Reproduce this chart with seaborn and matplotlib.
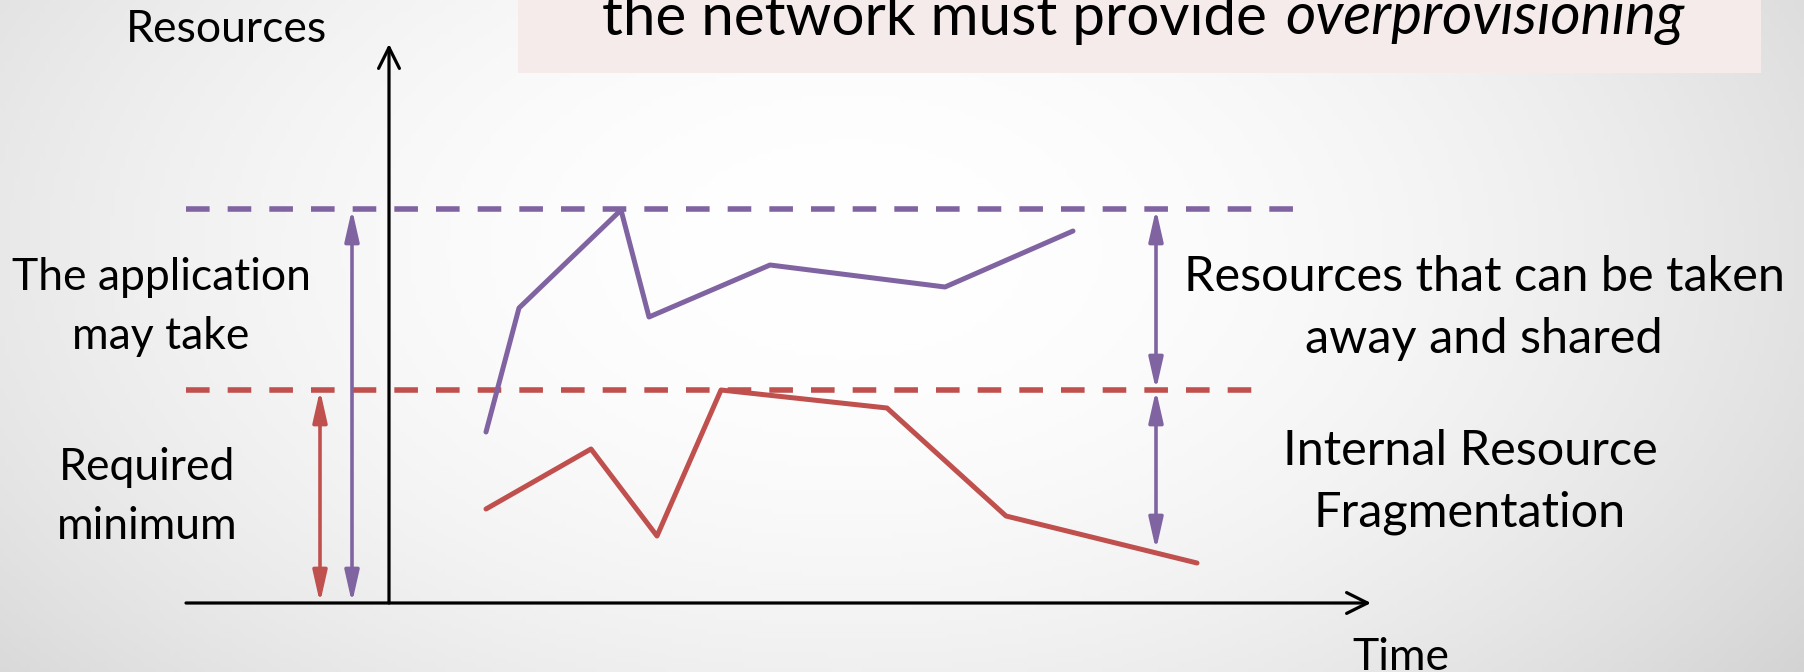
import numpy as np
import seaborn as sns
import matplotlib.pyplot as plt
from matplotlib.patches import Rectangle

# readings in (time, resource) units, origin where the two axes meet
app_time = [9.7, 13.0, 23.2, 26.0, 38.1, 55.6, 68.4]
app_usage = [17.1, 29.5, 39.3, 28.6, 33.8, 31.6, 37.2]
min_time = [9.7, 20.2, 26.8, 33.2, 49.8, 61.7, 80.8]
min_usage = [9.4, 15.4, 6.7, 21.3, 19.5, 8.7, 4.0]

max_level = 39.4   # what the application may take
req_level = 21.3   # required minimum
floor_at_arrow = 5.3  # red curve under the right hand arrow

title_plain = "the network must provide"
title_italic = "overprovisioning"
left_labels = ["The application\nmay take", "Required\nminimum"]
right_labels = ["Resources that can be taken\naway and shared",
                "Internal Resource\nFragmentation"]

PURPLE = "#8064A2"
RED = "#C0504D"

sns.set_theme(style="white")
plt.rcParams["font.family"] = ["Lato", "DejaVu Sans"]
plt.rcParams["text.color"] = "black"
plt.rcParams["lines.scale_dashes"] = False

fig = plt.figure(figsize=(18.04, 6.72), dpi=100)
ax = fig.add_axes([0, 0, 1, 1])
xlim = (-38.9, 141.5)
ylim = (-6.9, 60.3)

# soft slide background
gx, gy = np.meshgrid(np.linspace(0, 1, 360), np.linspace(0, 1, 140))
d2 = ((gx - 0.47) / 0.55) ** 2 + ((gy - 0.37) / 0.9) ** 2
shade = np.clip(1 - 0.12 * d2, 0.82, 1)
ax.imshow(np.dstack([shade] * 3), extent=(*xlim, ylim[0], ylim[1]),
          origin="upper", aspect="auto", zorder=0)

# banner
ax.add_patch(Rectangle((0.287, 0.891), 0.689, 0.2, transform=ax.transAxes,
                       facecolor="#F5EBEB", edgecolor="none", zorder=1))
t1 = ax.text(1267 / 1804, 0.948, title_plain, transform=ax.transAxes,
             ha="right", va="baseline", fontsize=42, zorder=2)
ax.annotate(title_italic, xy=(1, 0), xycoords=t1, xytext=(13.5, 0),
            textcoords="offset points", ha="left", va="bottom",
            fontsize=42, style="italic", zorder=2)

# levels
ax.hlines(max_level, -20.3, 90.8, color=PURPLE, lw=4.0,
          linestyles=(0, (17, 13)), zorder=3)
ax.hlines(req_level, -20.3, 87.0, color=RED, lw=4.0,
          linestyles=(0, (17, 13)), zorder=3)

# usage curves
sns.lineplot(x=app_time, y=app_usage, color=PURPLE, lw=3.6, ax=ax,
             sort=False, zorder=4)
sns.lineplot(x=min_time, y=min_usage, color=RED, lw=3.6, ax=ax,
             sort=False, zorder=4)

# axes
axis_arrow = dict(arrowstyle="->,head_length=15,head_width=7.5",
                  mutation_scale=1, lw=2.3, color="black",
                  shrinkA=0, shrinkB=0)
ax.annotate("", xy=(98.2, 0), xytext=(-20.3, 0), arrowprops=axis_arrow, zorder=5)
ax.annotate("", xy=(0, 55.9), xytext=(0, 0), arrowprops=axis_arrow, zorder=5)


def span(x, y0, y1, color):
    ax.annotate("", xy=(x, y1), xytext=(x, y0), zorder=5,
                arrowprops=dict(arrowstyle="<|-|>,head_length=19,head_width=4.3",
                                mutation_scale=1, lw=2.6, color=color,
                                shrinkA=0, shrinkB=0))


span(-6.9, 0, req_level, RED)
span(-3.7, 0, max_level, PURPLE)
span(76.7, req_level, max_level, PURPLE)
span(76.7, floor_at_arrow, req_level, PURPLE)

# labels
ax.text(227 / 1804, 1 - 29 / 672, "Resources", transform=ax.transAxes,
        ha="center", va="center", fontsize=32)
ax.text(1401 / 1804, 1 - 658 / 672, "Time", transform=ax.transAxes,
        ha="center", va="center", fontsize=32)
ax.text(161 / 1804, 1 - 307 / 672, left_labels[0], transform=ax.transAxes,
        ha="center", va="center", fontsize=32, linespacing=1.54)
ax.text(147 / 1804, 1 - 497 / 672, left_labels[1], transform=ax.transAxes,
        ha="center", va="center", fontsize=32, linespacing=1.54)
ax.text(1484 / 1804, 1 - 308 / 672, right_labels[0], transform=ax.transAxes,
        ha="center", va="center", fontsize=35, linespacing=1.48)
ax.text(1470 / 1804, 1 - 482 / 672, right_labels[1], transform=ax.transAxes,
        ha="center", va="center", fontsize=35, linespacing=1.48)

ax.set_xlim(*xlim)
ax.set_ylim(*ylim)
ax.axis("off")
fig.savefig("out.png", dpi=100)
